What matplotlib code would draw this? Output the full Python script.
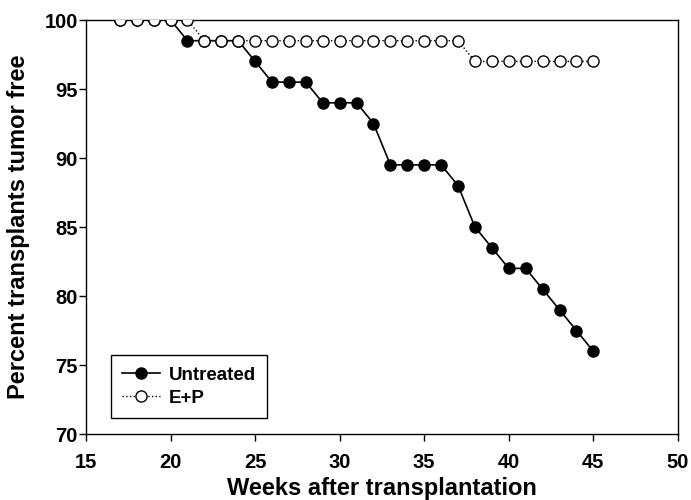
import matplotlib.pyplot as plt

plt.rcParams['font.family'] = ['Liberation Sans', 'DejaVu Sans']
plt.rcParams['font.weight'] = 'bold'

weeks = list(range(17, 46))
untreated = [100, 100, 100, 100, 98.5, 98.5, 98.5, 98.5, 97, 95.5, 95.5, 95.5,
             94, 94, 94, 92.5, 89.5, 89.5, 89.5, 89.5, 88, 85, 83.5, 82, 82,
             80.5, 79, 77.5, 76]
ep = [100, 100, 100, 100, 100] + [98.5] * 16 + [97] * 8

x_ticks = [15, 20, 25, 30, 35, 40, 45, 50]
y_ticks = [70, 75, 80, 85, 90, 95, 100]

fig = plt.figure(figsize=(6.91, 5.0), dpi=100)
ax = fig.add_axes([0.1245, 0.132, 0.8565, 0.828])

ax.plot(weeks, untreated, '-', color='black', lw=1.2, marker='o', ms=8,
        mfc='black', mec='black', label='Untreated', zorder=2)
ax.plot(weeks, ep, ':', color='black', lw=1.0, marker='o', ms=8,
        mfc='white', mec='black', mew=1.0, label='E+P', zorder=3)

ax.set_xlim(15, 50)
ax.set_ylim(70, 100)
ax.set_xticks(x_ticks)
ax.set_yticks(y_ticks)
ax.tick_params(direction='out', length=5, width=1, labelsize=14.5,
               top=False, right=False)
ax.tick_params(axis='x', pad=9)
ax.tick_params(axis='y', pad=1)
for s in ax.spines.values():
    s.set_linewidth(1.0)

ax.set_xlabel('Weeks after transplantation', fontsize=17, fontweight='bold',
              labelpad=3)
ax.set_ylabel('Percent transplants tumor free', fontsize=17, fontweight='bold',
              labelpad=10)

leg = ax.legend(loc='lower left', bbox_to_anchor=(0.042, 0.039), fontsize=13.5,
                fancybox=False, edgecolor='black', framealpha=1,
                handlelength=2.0, borderpad=0.6, labelspacing=0.3,
                handletextpad=0.5, borderaxespad=0)
leg.get_frame().set_linewidth(1.0)
for t in leg.get_texts():
    t.set_fontweight('bold')
for h in leg.legend_handles:
    h.set_markersize(8)

fig.savefig('out.png', dpi=100)
